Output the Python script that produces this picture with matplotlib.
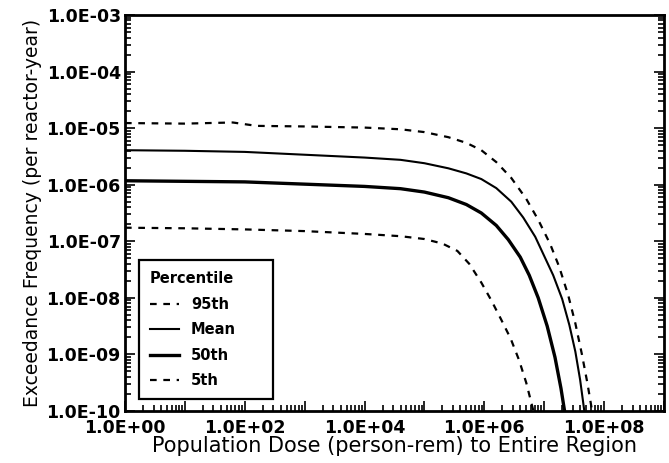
import numpy as np
import matplotlib
matplotlib.use("Agg")
import matplotlib.pyplot as plt
from matplotlib.ticker import FixedLocator, FuncFormatter, LogLocator, NullFormatter

p95_logx = [0.0, 1.0, 1.8, 2.2, 3.0, 4.0, 4.6, 5.0, 5.4, 5.7, 5.95, 6.2, 6.45, 6.7, 6.9, 7.1, 7.25, 7.4, 7.52, 7.63, 7.72, 7.80]
p95_logy = [-4.91, -4.92, -4.90, -4.96, -4.97, -4.99, -5.02, -5.07, -5.16, -5.26, -5.39, -5.60, -5.88, -6.25, -6.62, -7.05, -7.45, -7.95, -8.45, -9.00, -9.50, -10.0]

mean_logx = [0.0, 1.0, 2.0, 3.0, 4.0, 4.6, 5.0, 5.4, 5.7, 5.95, 6.2, 6.45, 6.65, 6.85, 7.0, 7.15, 7.3, 7.42, 7.52, 7.6, 7.67]
mean_logy = [-5.39, -5.40, -5.42, -5.47, -5.52, -5.56, -5.62, -5.71, -5.80, -5.90, -6.06, -6.30, -6.58, -6.92, -7.26, -7.60, -8.02, -8.48, -8.95, -9.45, -10.0]

p50_logx = [0.0, 1.0, 2.0, 3.0, 4.0, 4.6, 5.0, 5.4, 5.7, 5.95, 6.2, 6.4, 6.6, 6.75, 6.9, 7.05, 7.18, 7.28, 7.34]
p50_logy = [-5.93, -5.94, -5.95, -5.99, -6.03, -6.07, -6.13, -6.23, -6.35, -6.50, -6.72, -6.97, -7.28, -7.60, -8.00, -8.50, -9.05, -9.60, -10.0]

p5_logx = [0.0, 1.0, 2.0, 3.0, 4.0, 4.6, 5.0, 5.3, 5.55, 5.75, 5.95, 6.12, 6.28, 6.44, 6.58, 6.70, 6.82]
p5_logy = [-6.76, -6.77, -6.79, -6.82, -6.87, -6.91, -6.96, -7.04, -7.17, -7.40, -7.73, -8.05, -8.38, -8.72, -9.10, -9.50, -10.0]

legend_labels = ["95th", "Mean", "50th", "5th"]

plt.rcParams["font.family"] = ["DejaVu Sans"]

fig = plt.figure(figsize=(6.69, 4.63), dpi=100)
ax = fig.add_axes([0.1868, 0.1123, 0.8057, 0.8553])

dash = (0, (3, 3))
l95, = ax.plot(10.0 ** np.array(p95_logx), 10.0 ** np.array(p95_logy), color="black", lw=1.6, linestyle=dash)
lmean, = ax.plot(10.0 ** np.array(mean_logx), 10.0 ** np.array(mean_logy), color="black", lw=1.5)
l50, = ax.plot(10.0 ** np.array(p50_logx), 10.0 ** np.array(p50_logy), color="black", lw=2.4)
l5, = ax.plot(10.0 ** np.array(p5_logx), 10.0 ** np.array(p5_logy), color="black", lw=1.6, linestyle=dash)

ax.set_xscale("log")
ax.set_yscale("log")
ax.set_xlim(1e0, 1e9)
ax.set_ylim(1e-10, 1e-3)


def sci_label(v, pos):
    e = int(round(np.log10(v)))
    return f"1.0E{e:+03d}"


def x_label(v, pos):
    e = int(round(np.log10(v)))
    return f"1.0E{e:+03d}" if e % 2 == 0 else ""


ax.xaxis.set_major_locator(FixedLocator([10.0 ** k for k in range(0, 10)]))
ax.xaxis.set_major_formatter(FuncFormatter(x_label))
ax.yaxis.set_major_locator(FixedLocator([10.0 ** k for k in range(-10, -2)]))
ax.yaxis.set_major_formatter(FuncFormatter(sci_label))
ax.xaxis.set_minor_locator(LogLocator(base=10, subs=np.arange(2, 10), numticks=20))
ax.yaxis.set_minor_locator(LogLocator(base=10, subs=np.arange(2, 10), numticks=20))
ax.xaxis.set_minor_formatter(NullFormatter())
ax.yaxis.set_minor_formatter(NullFormatter())

ax.tick_params(which="both", direction="in", top=False, right=True, width=1.2)
ax.tick_params(which="major", length=7)
ax.tick_params(which="minor", length=4)
ax.tick_params(axis="y", which="major", pad=3)
ax.tick_params(axis="x", which="major", pad=6)
for lab in ax.get_xticklabels() + ax.get_yticklabels():
    lab.set_fontweight("bold")
    lab.set_fontsize(12.5)

for s in ax.spines.values():
    s.set_linewidth(2.0)

ax.set_xlabel("Population Dose (person-rem) to Entire Region", fontsize=15, labelpad=-1)
ax.set_ylabel("Exceedance Frequency (per reactor-year)", fontsize=13.5, labelpad=3)

leg = ax.legend([l95, lmean, l50, l5], legend_labels, title="Percentile",
                loc="lower left", bbox_to_anchor=(0.026, 0.030, 0.249, 0.346),
                mode="expand", fancybox=False, edgecolor="black", framealpha=1,
                prop={"weight": "bold", "size": 10.5},
                title_fontproperties={"weight": "bold", "size": 10.5},
                handlelength=2.0, handletextpad=0.8, labelspacing=0.72,
                borderpad=0.75, borderaxespad=0)
leg.get_frame().set_linewidth(1.6)
leg._legend_box.align = "left"

fig.savefig("out.png", dpi=100)
